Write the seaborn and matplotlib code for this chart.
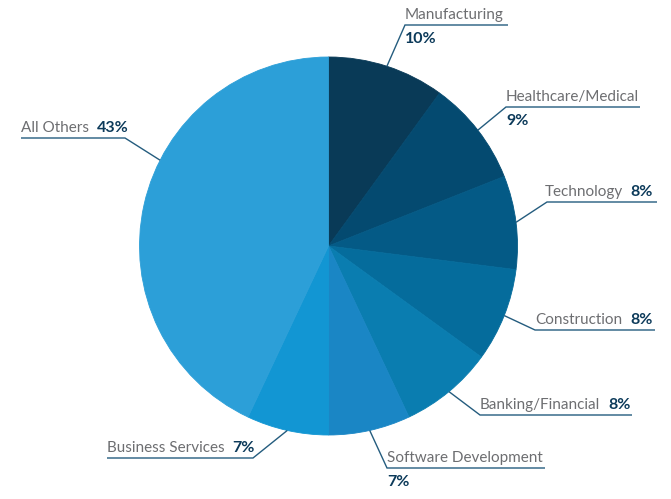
import numpy as np
import matplotlib
matplotlib.use("Agg")
import matplotlib.pyplot as plt
import seaborn as sns

sns.set_theme(style="white")
plt.rcParams["font.family"] = ["Lato", "DejaVu Sans"]

# data
industries = ["Manufacturing", "Healthcare/Medical", "Technology", "Construction",
              "Banking/Financial", "Software Development", "Business Services", "All Others"]
shares = [10, 9, 8, 8, 8, 7, 7, 43]
colors = ["#093a57", "#044a70", "#045a86", "#056c9c",
          "#0a7db0", "#1a86c5", "#1296d3", "#2c9fd8"]

# label layout in pixels (top-left origin): elbow x, elbow y, line end x, style
# style: "below" = percent under the line, "left" = name+pct inline from elbow,
# "right" = name+pct right-aligned, "rev" = line runs leftwards
layout = [
    (405, 25, 508, "below"),
    (506, 107, 640, "below"),
    (547, 202, 657, "right"),
    (535, 330, 655, "left"),
    (480, 415, 632, "left"),
    (387, 468, 545, "below"),
    (253, 458, 107, "rev"),
    (125, 138, 21, "rev"),
]
anchor_frac = [0.5, 0.5, 0.5, 0.5, 0.5, 0.5, 0.5, 0.593]

W, H = 671, 499
fig = plt.figure(figsize=(W / 100, H / 100), dpi=100)
ax = fig.add_axes([0, 0, 1, 1])

cx, cy, r = 328.5, H - 246, 189
wedges, _ = ax.pie(shares, colors=colors, startangle=90, counterclock=False,
                   center=(cx, cy), radius=r,
                   wedgeprops=dict(linewidth=0.6, antialiased=True))
for w, c in zip(wedges, colors):
    w.set_edgecolor(c)

ax.set_xlim(0, W)
ax.set_ylim(0, H)
ax.set_aspect("equal")
ax.axis("off")

line_c = "#245c7e"
name_c = "#6d6e71"
pct_c = "#0c3a5a"
fs = 11
fs_pct = 11.5

for w, name, val, (ex, ey, lx, style), f in zip(wedges, industries, shares, layout, anchor_frac):
    ang = np.deg2rad(w.theta2 - f * (w.theta2 - w.theta1))
    sx, sy = cx + r * np.cos(ang), cy + r * np.sin(ang)
    ey_d = H - ey
    ax.plot([sx, ex, lx], [sy, ey_d, ey_d], color=line_c, lw=1.0,
            solid_capstyle="butt", solid_joinstyle="miter")
    pct = f"{val}%"
    base = ey_d + 6
    if style == "below":
        ax.text(ex, base, name, color=name_c, fontsize=fs, ha="left", va="baseline")
        ax.text(ex, ey_d - 18, pct, color=pct_c, fontsize=fs_pct, fontweight="bold",
                ha="left", va="baseline")
    elif style == "right":
        t = ax.text(lx - 4, base, pct, color=pct_c, fontsize=fs_pct, fontweight="bold",
                    ha="right", va="baseline")
        ax.annotate(name, xy=(0, 0), xycoords=t, xytext=(-8, 0),
                    textcoords="offset pixels", color=name_c, fontsize=fs,
                    ha="right", va="bottom")
    else:
        x0 = ex if style == "left" else lx
        t = ax.text(x0, base, name, color=name_c, fontsize=fs, ha="left", va="baseline")
        ax.annotate(pct, xy=(1, 0), xycoords=t, xytext=(8, 0),
                    textcoords="offset pixels", color=pct_c, fontsize=fs_pct,
                    fontweight="bold", ha="left", va="bottom")

fig.savefig("out.png", dpi=100)
